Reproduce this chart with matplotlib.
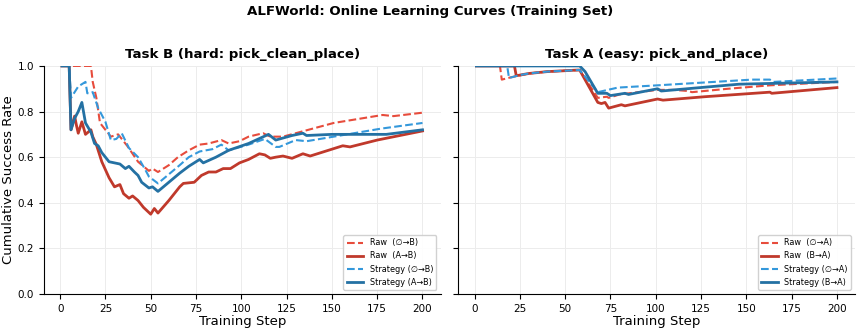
import numpy as np
from matplotlib import pyplot as plt

# Task B (hard: pick_clean_place)
b_raw_empty_steps = [1, 17, 18, 20, 22, 25, 28, 32, 37, 43, 49, 51, 54, 60, 65, 71, 77, 82, 89, 93,
                     99, 104, 112, 116, 123, 130, 151, 178, 184, 200]
b_raw_empty = [1.0, 1.0, 0.93, 0.86, 0.75, 0.72, 0.69, 0.70, 0.65, 0.58, 0.54, 0.55, 0.535, 0.565, 0.60,
               0.63, 0.655, 0.66, 0.675, 0.66, 0.67, 0.69, 0.705, 0.69, 0.69, 0.705, 0.75, 0.785, 0.78, 0.795]

b_raw_a_steps = [1, 5, 6, 8, 9, 10, 12, 14, 17, 18, 20, 23, 27, 30, 33, 35, 38, 40, 43, 46, 50, 52, 54,
                 60, 66, 68, 74, 78, 82, 86, 90, 94, 99, 104, 110, 113, 116, 119, 123, 128, 134, 138,
                 150, 156, 160, 175, 200]
b_raw_a = [1.0, 1.0, 0.72, 0.78, 0.74, 0.705, 0.755, 0.70, 0.72, 0.69, 0.655, 0.58, 0.51, 0.47, 0.48,
           0.44, 0.42, 0.43, 0.41, 0.38, 0.35, 0.375, 0.355, 0.41, 0.47, 0.485, 0.49, 0.52, 0.535,
           0.535, 0.55, 0.55, 0.575, 0.59, 0.615, 0.61, 0.595, 0.60, 0.605, 0.595, 0.615, 0.605,
           0.635, 0.65, 0.645, 0.675, 0.715]

b_strat_empty_steps = [1, 5, 6, 10, 14, 15, 18, 21, 25, 28, 31, 34, 38, 43, 47, 49, 54, 60, 66, 71, 77,
                       84, 89, 93, 104, 113, 119, 121, 130, 136, 151, 177, 200]
b_strat_empty = [1.0, 1.0, 0.86, 0.91, 0.93, 0.88, 0.885, 0.815, 0.755, 0.675, 0.68, 0.705, 0.64, 0.60,
                 0.545, 0.515, 0.485, 0.525, 0.565, 0.60, 0.625, 0.635, 0.655, 0.63, 0.655, 0.68, 0.645,
                 0.645, 0.675, 0.67, 0.69, 0.725, 0.75]

b_strat_a_steps = [1, 5, 6, 8, 10, 12, 14, 17, 19, 21, 23, 25, 27, 30, 33, 36, 38, 41, 43, 45, 49, 51, 54,
                   60, 66, 71, 77, 79, 86, 93, 104, 115, 119, 128, 134, 136, 150, 165, 180, 200]
b_strat_a = [1.0, 1.0, 0.72, 0.77, 0.80, 0.84, 0.75, 0.71, 0.66, 0.65, 0.62, 0.60, 0.58, 0.575, 0.57,
             0.55, 0.56, 0.535, 0.52, 0.49, 0.465, 0.47, 0.45, 0.49, 0.53, 0.56, 0.59, 0.575, 0.60, 0.63,
             0.66, 0.70, 0.675, 0.695, 0.705, 0.695, 0.70, 0.70, 0.70, 0.72]

# Task A (easy: pick_and_place)
a_raw_empty_steps = [1, 14, 15, 20, 30, 40, 57, 58, 68, 73, 74, 80, 101, 110, 118, 120, 140, 163, 200]
a_raw_empty = [1.0, 1.0, 0.94, 0.95, 0.967, 0.975, 0.982, 0.982, 0.86, 0.865, 0.86, 0.875, 0.895, 0.895,
               0.89, 0.885, 0.90, 0.915, 0.93]

a_raw_b_steps = [1, 22, 23, 30, 40, 57, 58, 68, 70, 72, 74, 81, 83, 101, 104, 127, 163, 164, 200]
a_raw_b = [1.0, 1.0, 0.957, 0.967, 0.975, 0.982, 0.982, 0.84, 0.835, 0.84, 0.815, 0.83, 0.825, 0.855,
           0.85, 0.865, 0.885, 0.88, 0.905]

a_strat_empty_steps = [1, 18, 19, 25, 30, 40, 57, 58, 68, 79, 101, 153, 163, 165, 200]
a_strat_empty = [1.0, 1.0, 0.947, 0.96, 0.967, 0.975, 0.982, 0.982, 0.885, 0.905, 0.915, 0.94, 0.94,
                 0.93, 0.945]

a_strat_b_steps = [1, 58, 61, 68, 73, 75, 83, 85, 101, 103, 146, 200]
a_strat_b = [1.0, 1.0, 0.975, 0.88, 0.88, 0.87, 0.88, 0.875, 0.90, 0.89, 0.92, 0.93]

RED_LIGHT = '#e74c3c'
RED = '#c0392b'
BLUE_LIGHT = '#3498db'
BLUE = '#2471a3'

fig, axes = plt.subplots(1, 2, figsize=(8.61, 3.33), dpi=100, sharey=True)
plt.subplots_adjust(left=0.051, right=0.993, bottom=0.117, top=0.802, wspace=0.045)

panels = [
    (axes[0], 'Task B (hard: pick_clean_place)', 'B', 'A',
     [(b_raw_empty_steps, b_raw_empty), (b_raw_a_steps, b_raw_a),
      (b_strat_empty_steps, b_strat_empty), (b_strat_a_steps, b_strat_a)]),
    (axes[1], 'Task A (easy: pick_and_place)', 'A', 'B',
     [(a_raw_empty_steps, a_raw_empty), (a_raw_b_steps, a_raw_b),
      (a_strat_empty_steps, a_strat_empty), (a_strat_b_steps, a_strat_b)]),
]

for ax, title, tgt, src, series in panels:
    labels = [f'Raw  (\u2205\u2192{tgt})', f'Raw  ({src}\u2192{tgt})',
              f'Strategy (\u2205\u2192{tgt})', f'Strategy ({src}\u2192{tgt})']
    styles = [(RED_LIGHT, '--', 1.5), (RED, '-', 2.0), (BLUE_LIGHT, '--', 1.5), (BLUE, '-', 2.0)]
    for (x, y), lab, (c, ls, lw) in zip(series, labels, styles):
        ax.plot(x, y, color=c, linestyle=ls, linewidth=lw, label=lab)
    ax.set_title(title, fontsize=9.6, fontweight='bold')
    ax.set_xlabel('Training Step', fontsize=9.5, labelpad=1)
    ax.set_ylim(0, 1.0)
    ax.set_xticks(np.arange(0, 201, 25))
    ax.tick_params(labelsize=7.5)
    ax.grid(True, color='#ececec', linewidth=0.7)
    ax.set_axisbelow(True)
    ax.spines['top'].set_visible(False)
    ax.spines['right'].set_visible(False)
    ax.legend(loc='lower right', fontsize=5.9, framealpha=0.9)

axes[0].set_ylabel('Cumulative Success Rate', fontsize=9.5, labelpad=2)
fig.suptitle('ALFWorld: Online Learning Curves (Training Set)', fontsize=9.6, fontweight='bold', y=0.985)

plt.savefig('out.png', dpi=100)
